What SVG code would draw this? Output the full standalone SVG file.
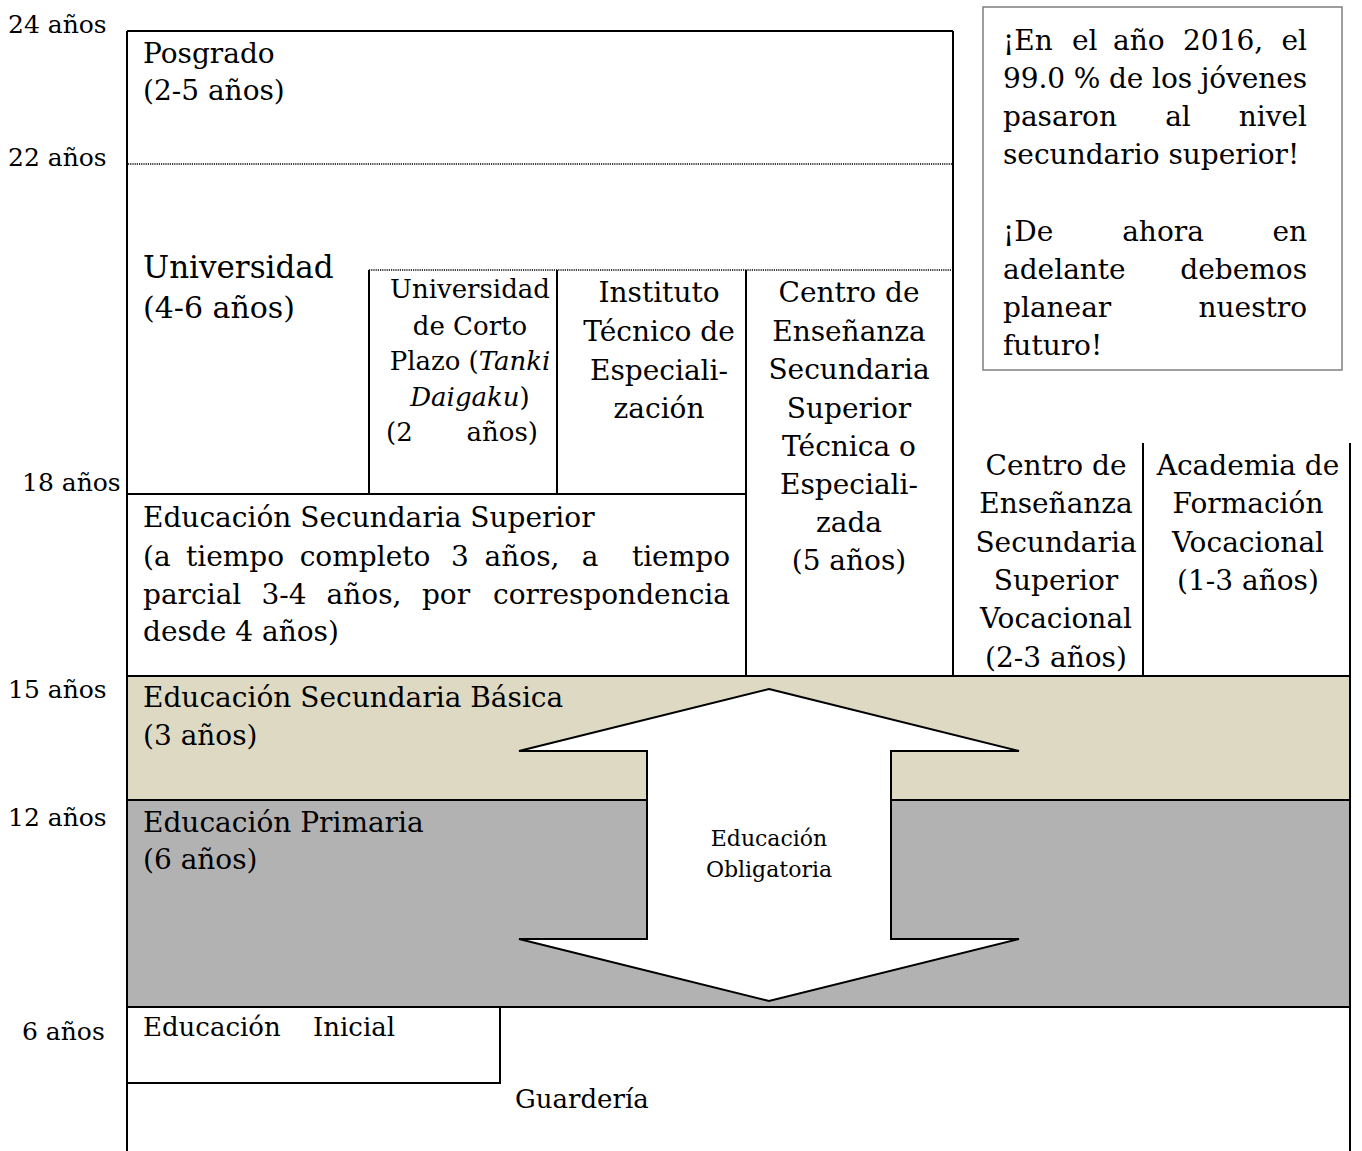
<svg xmlns="http://www.w3.org/2000/svg" width="1362" height="1151" viewBox="0 0 1362 1151">
<style>
text{font-family:"DejaVu Serif","Liberation Serif",serif;fill:#000;}
.m{font-size:28px;}
.age{font-size:25px;}
.s{font-size:26px;}
.c{text-anchor:middle;}
.e{text-anchor:end;}
.ln{stroke:#000;stroke-width:2;fill:none;}
.dot{stroke:#000;stroke-width:1.6;stroke-dasharray:1.2 1;fill:none;}
</style>
<rect width="1362" height="1151" fill="#fff"/>

<g id="ages">
<text class="age" x="8" y="33">24 años</text>
<text class="age" x="8" y="166">22 años</text>
<text class="age" x="22" y="491">18 años</text>
<text class="age" x="8" y="698">15 años</text>
<text class="age" x="8" y="826">12 años</text>
<text class="age" x="22" y="1040">6 años</text>
</g>

<g id="frame">
<line class="ln" x1="127" y1="31" x2="127" y2="1151"/>
<line class="ln" x1="127" y1="31" x2="953" y2="31"/>
<line class="ln" x1="953" y1="31" x2="953" y2="676"/>
<line class="dot" x1="128" y1="164" x2="953" y2="164"/>
<line class="dot" x1="369" y1="270" x2="953" y2="270"/>
<line class="ln" x1="369" y1="270" x2="369" y2="494"/>
<line class="ln" x1="557" y1="270" x2="557" y2="494"/>
<line class="ln" x1="746" y1="270" x2="746" y2="676"/>
<line class="ln" x1="127" y1="494" x2="746" y2="494"/>
<line class="ln" x1="1143" y1="443" x2="1143" y2="676"/>
<line class="ln" x1="1350" y1="443" x2="1350" y2="1151"/>
</g>

<g id="posgrado">
<text class="m" x="143" y="63">Posgrado</text>
<text class="m" x="143" y="100">(2-5 años)</text>
</g>

<g id="universidad">
<text x="143" y="278" style="font-size:31px">Universidad</text>
<text x="143" y="318" style="font-size:30px">(4-6 años)</text>
</g>

<g id="tanki">
<text class="s c" x="470" y="298">Universidad</text>
<text class="s c" x="470" y="335">de Corto</text>
<text class="s c" x="470" y="370">Plazo (<tspan font-style="italic">Tanki</tspan></text>
<text class="s c" x="470" y="406"><tspan font-style="italic">Daigaku</tspan>)</text>
<text class="s" x="386" y="441">(2</text>
<text class="s e" x="538" y="441">años)</text>
</g>

<g id="instituto">
<text class="m c" x="659" y="302">Instituto</text>
<text class="m c" x="659" y="341">Técnico de</text>
<text class="m c" x="659" y="380">Especiali-</text>
<text class="m c" x="659" y="418">zación</text>
</g>

<g id="centro-tecnico">
<text class="m c" x="849" y="302">Centro de</text>
<text class="m c" x="849" y="341">Enseñanza</text>
<text class="m c" x="849" y="379">Secundaria</text>
<text class="m c" x="849" y="418">Superior</text>
<text class="m c" x="849" y="456">Técnica o</text>
<text class="m c" x="849" y="494">Especiali-</text>
<text class="m c" x="849" y="532">zada</text>
<text class="m c" x="849" y="570">(5 años)</text>
</g>

<g id="secundaria-superior">
<text class="m" x="143" y="527">Educación Secundaria Superior</text>
<text class="m" x="143" y="566">(a</text>
<text class="m c" x="235" y="566">tiempo</text>
<text class="m c" x="365" y="566">completo</text>
<text class="m c" x="460" y="566">3</text>
<text class="m c" x="522" y="566">años,</text>
<text class="m c" x="590" y="566">a</text>
<text class="m e" x="730" y="566">tiempo</text>
<text class="m" x="143" y="604">parcial</text>
<text class="m c" x="284" y="604">3-4</text>
<text class="m c" x="364" y="604">años,</text>
<text class="m c" x="446" y="604">por</text>
<text class="m e" x="730" y="604">correspondencia</text>
<text class="m" x="143" y="641">desde 4 años)</text>
</g>

<g id="vocacional">
<text class="m c" x="1056" y="475">Centro de</text>
<text class="m c" x="1056" y="513">Enseñanza</text>
<text class="m c" x="1056" y="552">Secundaria</text>
<text class="m c" x="1056" y="590">Superior</text>
<text class="m c" x="1056" y="628">Vocacional</text>
<text class="m c" x="1056" y="667">(2-3 años)</text>
</g>

<g id="academia">
<text class="m c" x="1248" y="475">Academia de</text>
<text class="m c" x="1248" y="513">Formación</text>
<text class="m c" x="1248" y="552">Vocacional</text>
<text class="m c" x="1248" y="590">(1-3 años)</text>
</g>

<g id="secundaria-basica">
<rect x="127" y="676" width="1223" height="124" fill="#DDD9C3" stroke="#000" stroke-width="2"/>
<text class="m" x="143" y="707">Educación Secundaria Básica</text>
<text class="m" x="143" y="745">(3 años)</text>
</g>

<g id="primaria">
<rect x="127" y="800" width="1223" height="207" fill="#B2B2B2" stroke="#000" stroke-width="2"/>
<text class="m" x="143" y="832">Educación Primaria</text>
<text class="m" x="143" y="869">(6 años)</text>
</g>

<g id="connectors">
<polygon points="769,689 1019,751 891,751 891,939 1019,939 769,1001 519,939 647,939 647,751 519,751" fill="#fff" stroke="#000" stroke-width="2" stroke-linejoin="miter"/>
</g>

<g id="obligatoria">
<text class="c" x="769" y="846" style="font-size:22px">Educación</text>
<text class="c" x="769" y="877" style="font-size:22px">Obligatoria</text>
</g>

<g id="inicial">
<polyline class="ln" points="127,1083 500,1083 500,1007"/>
<text class="s" x="143" y="1036">Educación</text>
<text class="s" x="313" y="1036">Inicial</text>
</g>

<g id="guarderia">
<text class="s" x="515" y="1108">Guardería</text>
</g>

<g id="nota">
<rect x="983" y="7" width="359" height="363" fill="#fff" stroke="#7f7f7f" stroke-width="1.5"/>
<text class="m" x="1003" y="50">¡En</text>
<text class="m" x="1072" y="50">el</text>
<text class="m" x="1113" y="50">año</text>
<text class="m" x="1183" y="50">2016,</text>
<text class="m e" x="1307" y="50">el</text>
<text class="m" x="1003" y="88" textLength="304" lengthAdjust="spacing">99.0 % de los jóvenes</text>
<text class="m" x="1003" y="126">pasaron</text>
<text class="m c" x="1178" y="126">al</text>
<text class="m e" x="1307" y="126">nivel</text>
<text class="m" x="1003" y="164">secundario superior!</text>
<text class="m" x="1003" y="241">¡De</text>
<text class="m c" x="1163" y="241">ahora</text>
<text class="m e" x="1307" y="241">en</text>
<text class="m" x="1003" y="279">adelante</text>
<text class="m e" x="1307" y="279">debemos</text>
<text class="m" x="1003" y="317">planear</text>
<text class="m e" x="1307" y="317">nuestro</text>
<text class="m" x="1003" y="355">futuro!</text>
</g>
</svg>
